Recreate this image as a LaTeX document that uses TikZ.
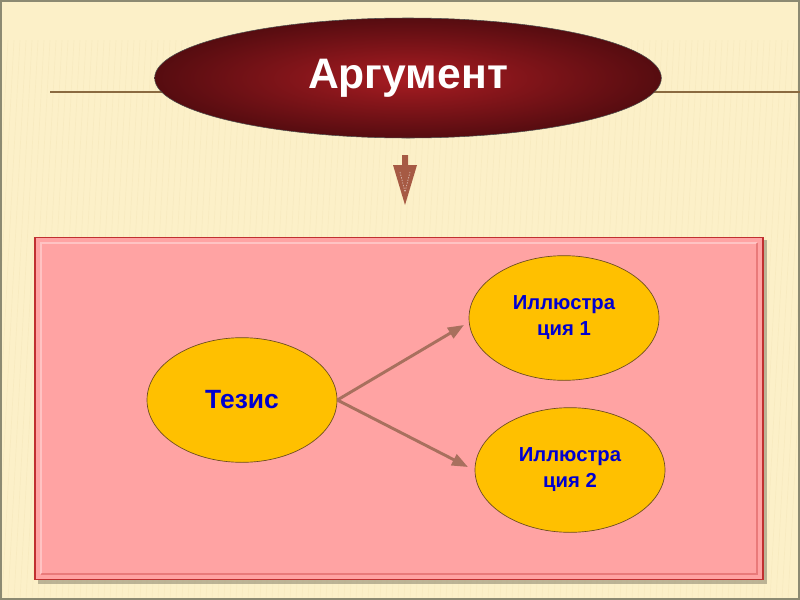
\documentclass[tikz,border=0pt]{standalone}
\usepackage{fontspec}
\setmainfont{Liberation Sans}
\usetikzlibrary{shapes.geometric,arrows.meta}
\definecolor{bgcream}{HTML}{FCF0C8}
\definecolor{stripec}{HTML}{EBD9A6}
\definecolor{framec}{HTML}{8C8A72}
\definecolor{hlinec}{HTML}{8A6A40}
\definecolor{redin}{HTML}{A81C22}
\definecolor{redout}{HTML}{560C10}
\definecolor{arrbrown}{HTML}{A65A44}
\definecolor{panelfill}{HTML}{FFA3A3}
\definecolor{paneledge}{HTML}{C03030}
\definecolor{goldfill}{HTML}{FFC000}
\definecolor{goldedge}{HTML}{6A4A20}
\definecolor{txtblue}{HTML}{0000D0}
\definecolor{connc}{HTML}{A8705E}
\tikzset{
  topell/.style={ellipse, inner sep=0pt, minimum width=380pt, minimum height=90pt,
    draw=black!70, line width=0.4pt, shading=radial, inner color=redin, outer color=redout,
    text=white, font=\bfseries\fontsize{32}{32}\selectfont},
  goldell/.style={ellipse, inner sep=0pt, minimum width=142.5pt, minimum height=93.5pt,
    draw=goldedge, line width=0.5pt, fill=goldfill, text=txtblue, align=center,
    font=\bfseries\fontsize{15.2}{19.5}\selectfont},
  panelbox/.style={rectangle, inner sep=0pt, draw=paneledge, line width=0.8pt, fill=panelfill,
    minimum width=546pt, minimum height=257pt},
  conn/.style={draw=connc, line width=2.2pt, -{Triangle[length=12pt,width=9pt]}},
}
\begin{document}
\begin{tikzpicture}[x=0.75pt,y=-0.75pt]
\useasboundingbox (0,0) rectangle (800,600);
\fill[bgcream] (0,0) rectangle (800,600);
% faint stripes
\begin{scope}
\clip (0,40) rectangle (800,600);
\foreach \i in {-40,-34,...,820} {
  \draw[stripec, opacity=0.45, line width=0.5pt] (\i,40) -- (\i-30,600);
}
\end{scope}
\fill[bgcream, opacity=0.55] (0,0) rectangle (800,600);
\draw[framec, line width=1.5pt] (1,1) rectangle (799,599);
% horizontal rule
\draw[hlinec, line width=1pt] (50,92) -- (800,92);
% top ellipse
\node[topell] (arg) at (408,78) {Аргумент};
% down arrow
\fill[arrbrown] (402,155) -- (408,155) -- (408,165) -- (417,165) -- (405,205)
  -- (393,165) -- (402,165) -- cycle;
\draw[white, opacity=0.6, line width=0.5pt, dash pattern=on 1pt off 1pt] (400,172) -- (405,192) -- (410,172);
% panel
\fill[black, opacity=0.25] (38,240) rectangle (767,584);
\node[panelbox] (panel) at (399,408.5) {};
\draw[white, opacity=0.35, line width=1pt] (41,574) -- (41,243) -- (757,243);
\draw[paneledge, opacity=0.35, line width=1pt] (41,574) -- (757,574) -- (757,243);
% nodes
\node[goldell, font=\bfseries\fontsize{19.8}{22}\selectfont] (tez) at (242,400) {Тезис};
\node[goldell] (il1) at (564,318) {Иллюстра\\ция 1};
\node[goldell] (il2) at (570,470) {Иллюстра\\ция 2};
% connectors
\coordinate (e1) at (464,325);
\coordinate (e2) at (468,467);
\draw[conn] (tez.east) -- (e1);
\draw[conn] (tez.east) -- (e2);
\end{tikzpicture}
\end{document}
